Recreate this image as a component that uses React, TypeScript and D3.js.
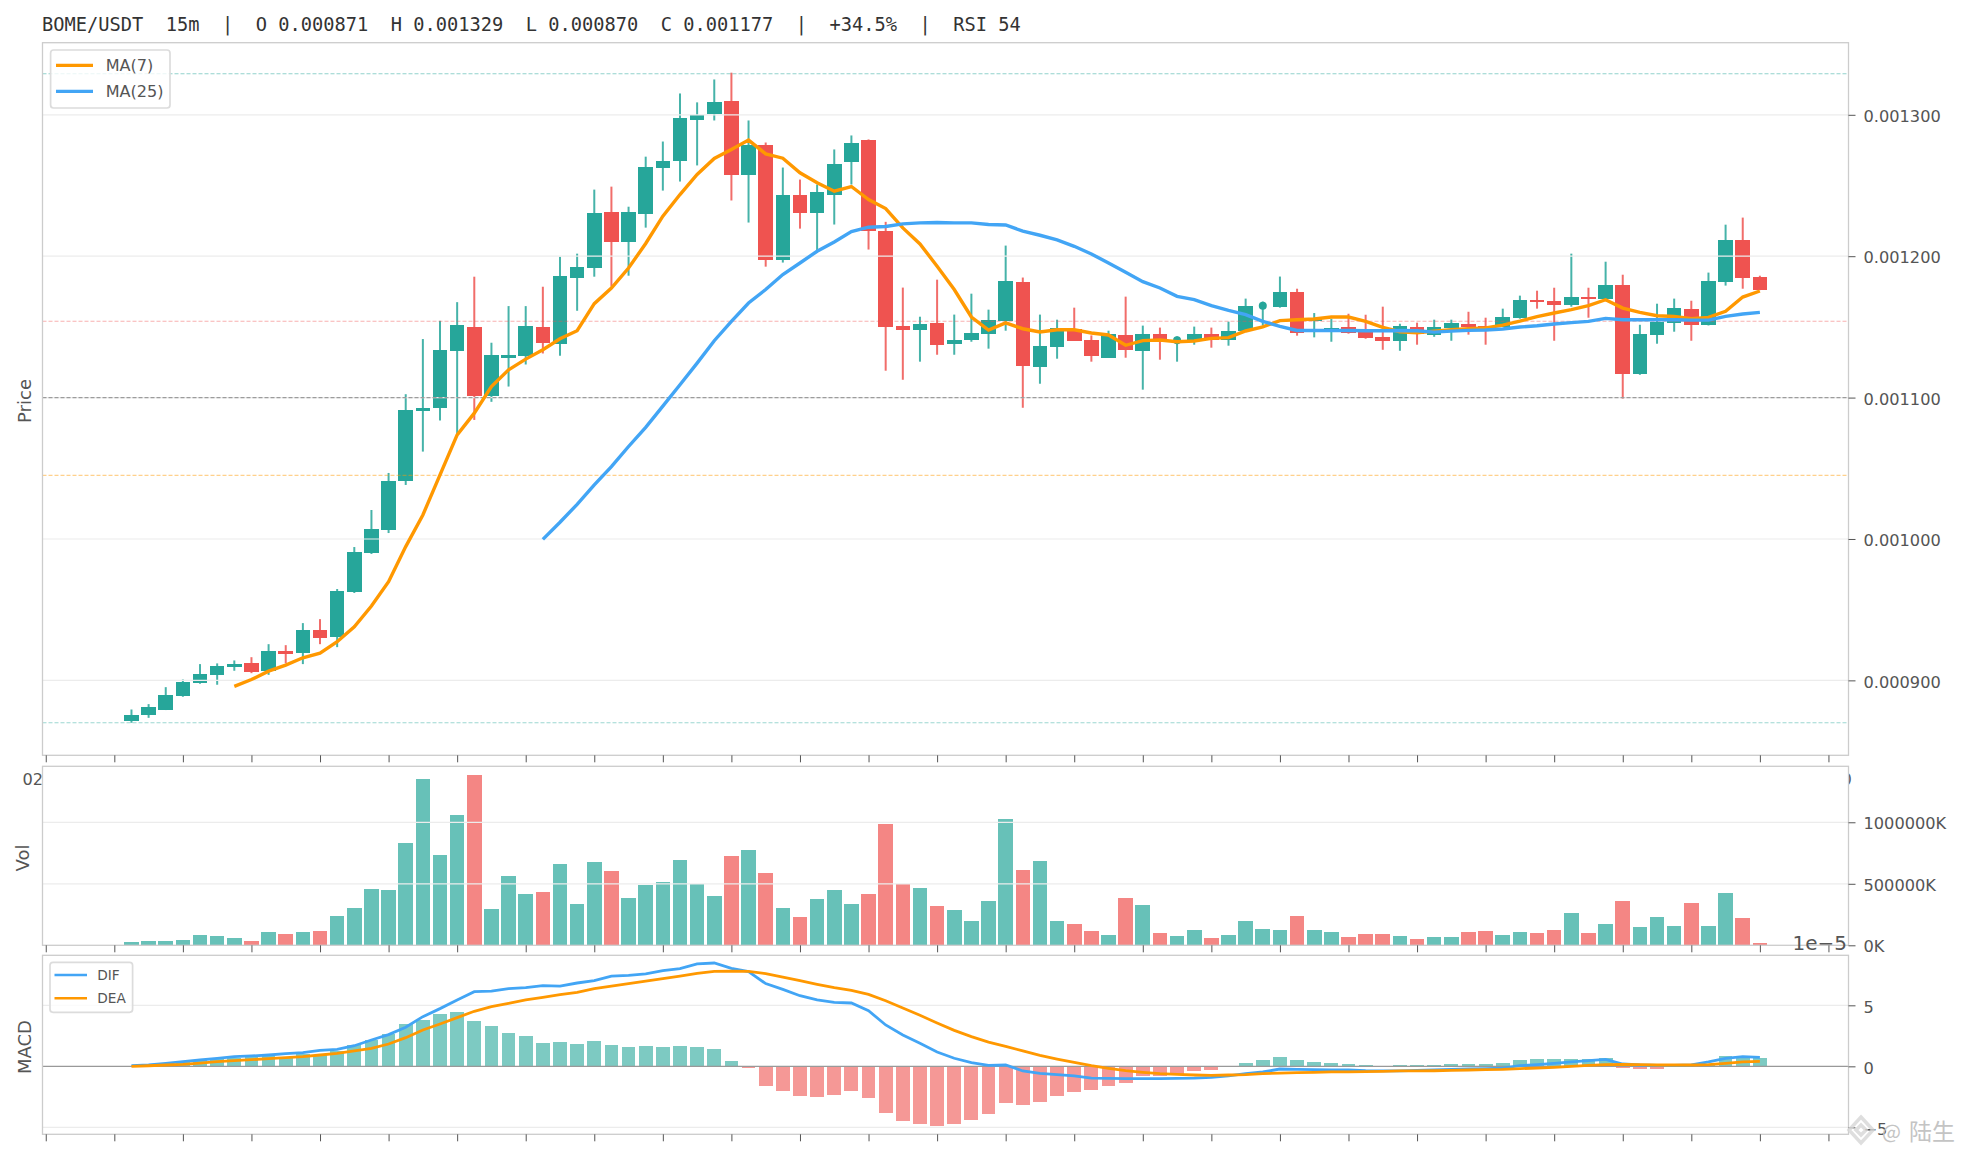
import * as d3 from "d3";
import { useEffect, useRef } from "react";

const WIDTH = 1962;
const HEIGHT = 1156;

const title =
  "BOME/USDT  15m  |  O 0.000871  H 0.001329  L 0.000870  C 0.001177  |  +34.5%  |  RSI 54";

// prices in millionths of USDT, one entry per 15m candle
const opens = [
  871, 875.6, 879.2, 889, 898.3, 903.9, 909.4, 912.2, 906.5, 920.7,
  919.3, 935.6, 930.4, 962.5, 990.1, 1006.4, 1041, 1090.6, 1092.7, 1133.3,
  1150, 1100.8, 1128.1, 1129.6, 1150, 1138, 1184.8, 1191.9, 1231.5, 1210.3,
  1230, 1262.7, 1267, 1296, 1300.3, 1309.5, 1257.1, 1279, 1197.6, 1243.6,
  1230.9, 1243.6, 1266.3, 1281.9, 1218.1, 1150.9, 1148, 1153, 1138.1, 1141,
  1145.2, 1154.4, 1182, 1121.8, 1136, 1148.8, 1141, 1128.2, 1144.5, 1133.2,
  1145.2, 1140.6, 1141, 1145.2, 1141, 1147.3, 1165, 1164.3, 1175, 1154,
  1146.1, 1150.1, 1146.1, 1143, 1140.2, 1150.1, 1144.5, 1149.4, 1152.2, 1150.8,
  1150.1, 1156.5, 1169.2, 1168.5, 1165.7, 1171.4, 1170, 1179.9, 1116.8, 1144.5,
  1153, 1162.9, 1151.5, 1182, 1211.7, 1185.5,
];
const highs = [
  879.4, 883.2, 895.2, 900.6, 911.5, 912, 914.1, 916.4, 925.6, 924.9,
  940.5, 943.3, 964.6, 994.3, 1020.5, 1046.7, 1102.4, 1141.4, 1154.3, 1167.5,
  1185.5, 1138.8, 1164.7, 1164.7, 1178.4, 1199.6, 1201.8, 1247.1, 1249.2, 1235,
  1270.4, 1281.1, 1315.1, 1308.8, 1325, 1329.8, 1296, 1280.4, 1262.7, 1254.2,
  1250.7, 1275.5, 1285.4, 1282.6, 1224.3, 1177.8, 1157.2, 1183.4, 1158.7, 1173.5,
  1162.2, 1207.5, 1184.9, 1158.7, 1155.1, 1163.6, 1144, 1147.3, 1171.4, 1150.9,
  1149.5, 1143.3, 1150.2, 1149.5, 1153.7, 1170, 1167.9, 1185.6, 1177, 1159.8,
  1155.8, 1159.3, 1158.6, 1164.3, 1152.2, 1153, 1155.1, 1155.1, 1160.7, 1156.5,
  1162.9, 1172.1, 1175.6, 1177.7, 1201.8, 1177.7, 1196.1, 1186.9, 1151.5, 1166.4,
  1170, 1168.5, 1188.4, 1222.3, 1227.3, 1186.2,
];
const lows = [
  870, 873.5, 879, 888.4, 897.6, 896.9, 906.8, 905.1, 903.9, 912,
  911.5, 925.6, 923.5, 961.8, 989.4, 1004.2, 1038.2, 1061.8, 1083.8, 1073.6,
  1084.2, 1097, 1107.8, 1123.4, 1131.2, 1129.6, 1161.4, 1185.5, 1178.6, 1186.2,
  1220.2, 1246.4, 1252.8, 1264.2, 1296, 1239.4, 1223.8, 1192.6, 1195.5, 1219.5,
  1203.3, 1222.4, 1250.7, 1204.7, 1119, 1112.6, 1125.4, 1130.3, 1130.3, 1139.5,
  1134.6, 1147.3, 1092.8, 1109.8, 1127.5, 1140, 1125.4, 1128, 1128.2, 1105.6,
  1126.8, 1125.4, 1137.4, 1135.3, 1136.7, 1147, 1150.9, 1163.6, 1143.8, 1142.6,
  1139.5, 1145.2, 1141.6, 1133.8, 1133.1, 1137.4, 1143, 1140.2, 1144.5, 1137.4,
  1150, 1155.8, 1162.9, 1140.2, 1164.3, 1156.5, 1169, 1099.2, 1116.1, 1138.1,
  1146.6, 1140.2, 1151, 1179.2, 1177, 1176,
];
const closes = [
  875.4, 881, 889.5, 898.7, 904.4, 910.1, 911.5, 905.8, 920.7, 918.6,
  935.6, 929.9, 963.2, 990.8, 1007.1, 1041, 1091.3, 1092.7, 1133.8, 1151.5,
  1100.8, 1130.3, 1130.3, 1150.8, 1138.8, 1186.2, 1192.6, 1230.8, 1210.3, 1231.5,
  1263.4, 1267, 1297.4, 1299.8, 1308.8, 1257.1, 1279, 1197.6, 1243.6, 1230.9,
  1245.7, 1264.9, 1280.4, 1218.1, 1150.2, 1148, 1152.3, 1137.4, 1141, 1145.9,
  1155.1, 1182.7, 1122.6, 1136.7, 1149.5, 1140.3, 1129.6, 1145.2, 1133.9, 1145.2,
  1141, 1140.6, 1145.2, 1141, 1147.3, 1165, 1165, 1175, 1145.7, 1155.5,
  1149.4, 1145.9, 1142.3, 1140.2, 1150.8, 1145.2, 1150.1, 1153, 1150.1, 1150.1,
  1157.2, 1169.2, 1167.8, 1165.7, 1171.4, 1170, 1179.9, 1116.8, 1145.2, 1153.7,
  1163.6, 1151.5, 1182.7, 1211.7, 1184.8, 1176.3,
];

// moving averages start at the candle given by these offsets
const ma7Start = 6;
const ma7 = [
  895.7, 900.6, 906.5, 910.8, 916, 919.3, 927.3, 937.9, 952.6, 969.8,
  994.6, 1017, 1045.3, 1073.6, 1089, 1107.8, 1119.6, 1127.2, 1133.8, 1141.6,
  1147.3, 1166.4, 1177.5, 1191.6, 1209, 1228.3, 1243.6, 1257.8, 1269.1, 1275.5,
  1282.1, 1272.4, 1269.3, 1259, 1251.9, 1246, 1249.3, 1240.1, 1233.7, 1220,
  1208.7, 1192.9, 1176.4, 1157, 1147.8, 1152.8, 1148.7, 1146.4, 1148, 1148,
  1145.7, 1144.3, 1137, 1140.3, 1140.7, 1139.5, 1140, 1141.9, 1142.4, 1147.1,
  1150, 1154.4, 1155.1, 1155.6, 1157, 1157, 1153.9, 1149.7, 1146.6, 1145.9,
  1147, 1148, 1148.7, 1149.2, 1151.3, 1154.1, 1157.2, 1159.8, 1162.2, 1165,
  1169.2, 1163.3, 1160.3, 1157.9, 1157.4, 1155.8, 1156.7, 1161, 1171.1, 1175.4,
];
const ma25Start = 24;
const ma25 = [
  999.7, 1011.8, 1024.5, 1038.2, 1051.2, 1065.4, 1079, 1094, 1109.1, 1124.4,
  1140.2, 1153.9, 1166.9, 1176.4, 1187, 1195.2, 1203.5, 1210.1, 1217.4, 1220.5,
  1221, 1222.9, 1223.6, 1223.8, 1223.6, 1223.6, 1222.4, 1222.1, 1217.7, 1214.8,
  1211.5, 1207, 1201.6, 1195.2, 1188.6, 1182, 1177.5, 1171.6, 1169.3, 1165,
  1161.7, 1158.7, 1153.9, 1150.4, 1147.5, 1147.5, 1147.5, 1147.5, 1147.3, 1147.3,
  1147.5, 1147.3, 1146.3, 1147, 1147.5, 1147.8, 1148.5, 1149.9, 1150.8, 1152,
  1153, 1153.9, 1156, 1155.1, 1155.1, 1155.1, 1155.1, 1154.8, 1154.8, 1157.4,
  1159.1, 1160.3,
];

// thousands of K
const volumes = [
  27, 35, 35, 43, 84, 76, 60, 35, 108, 92,
  108, 117, 238, 304, 458, 450, 832, 1352, 734, 1060,
  1385, 295, 564, 417, 434, 661, 336, 678, 604, 385,
  491, 515, 694, 499, 401, 726, 775, 588, 304, 230,
  377, 450, 336, 417, 986, 501, 466, 320, 287, 198,
  360, 1027, 612, 686, 198, 173, 117, 84, 385, 328,
  100, 76, 125, 60, 84, 198, 133, 125, 238, 125,
  108, 68, 92, 92, 76, 51, 68, 68, 108, 117,
  84, 108, 100, 125, 263, 100, 173, 360, 149, 230,
  157, 344, 157, 425, 222, 19,
];

// MACD values in units of 1e-5
const macdHist = [
  0.05, 0.11, 0.19, 0.38, 0.52, 0.71, 0.71, 0.77, 0.85, 0.79,
  1.01, 0.93, 1.26, 1.75, 2.16, 2.65, 3.47, 3.8, 4.29, 4.45,
  3.72, 3.31, 2.73, 2.49, 1.91, 1.99, 1.83, 2.08, 1.75, 1.58,
  1.67, 1.58, 1.67, 1.58, 1.42, 0.44, -0.14, -1.61, -2.02, -2.43,
  -2.51, -2.35, -2.02, -2.6, -3.83, -4.48, -4.73, -4.89, -4.73, -4.4,
  -3.91, -3.01, -3.17, -2.92, -2.43, -2.1, -1.94, -1.61, -1.37, -0.79,
  -0.79, -0.71, -0.38, -0.3, 0.02, 0.27, 0.52, 0.77, 0.52, 0.36,
  0.27, 0.19, 0.11, 0.03, 0.11, 0.11, 0.11, 0.19, 0.19, 0.19,
  0.27, 0.52, 0.6, 0.6, 0.6, 0.6, 0.68, -0.11, -0.22, -0.22,
  -0.03, -0.05, 0.11, 0.85, 0.85, 0.68,
];
const dif = [
  0.05, 0.11, 0.25, 0.38, 0.52, 0.66, 0.79, 0.85, 0.93, 1.04,
  1.12, 1.31, 1.39, 1.69, 2.16, 2.6, 3.2, 4.07, 4.73, 5.44,
  6.12, 6.17, 6.37, 6.45, 6.61, 6.58, 6.83, 7.02, 7.4, 7.46,
  7.57, 7.84, 8.0, 8.39, 8.47, 8.03, 7.76, 6.78, 6.31, 5.79,
  5.44, 5.25, 5.19, 4.56, 3.39, 2.57, 1.89, 1.17, 0.66, 0.3,
  0.08, 0.11, -0.38, -0.57, -0.68, -0.79, -0.96, -0.98, -1.01, -1.01,
  -1.01, -0.98, -0.96, -0.9, -0.79, -0.6, -0.46, -0.22, -0.25, -0.27,
  -0.3, -0.3, -0.36, -0.38, -0.38, -0.33, -0.3, -0.25, -0.22, -0.19,
  -0.14, 0.05, 0.14, 0.25, 0.36, 0.46, 0.57, 0.19, 0.11, 0.08,
  0.08, 0.11, 0.36, 0.66, 0.79, 0.74,
];
const dea = [
  0, 0.05, 0.11, 0.16, 0.27, 0.38, 0.46, 0.55, 0.63, 0.71,
  0.79, 0.93, 1.07, 1.26, 1.48, 1.83, 2.35, 2.98, 3.47, 3.99,
  4.51, 4.89, 5.16, 5.44, 5.66, 5.87, 6.07, 6.37, 6.58, 6.78,
  6.99, 7.19, 7.4, 7.62, 7.79, 7.81, 7.79, 7.6, 7.32, 7.02,
  6.72, 6.45, 6.23, 5.9, 5.38, 4.78, 4.18, 3.55, 2.95, 2.43,
  1.99, 1.64, 1.26, 0.9, 0.6, 0.33, 0.05, -0.16, -0.36, -0.49,
  -0.6, -0.66, -0.71, -0.74, -0.71, -0.68, -0.6, -0.55, -0.52, -0.49,
  -0.46, -0.46, -0.44, -0.41, -0.38, -0.38, -0.36, -0.33, -0.3, -0.27,
  -0.25, -0.19, -0.14, -0.08, 0, 0.08, 0.14, 0.16, 0.14, 0.11,
  0.11, 0.11, 0.14, 0.25, 0.36, 0.41,
];

const priceTicks = [900, 1000, 1100, 1200, 1300];
const volTicks = [0, 500, 1000];
const macdTicks = [-5, 0, 5];
const levelPrices = [1329, 1154, 1100, 1045, 870];
const levelColors = ["#26a69a", "#ef5350", "#888888", "#ff9800", "#26a69a"];
const levelOpacity = [0.5, 0.45, 0.8, 0.45, 0.45];
const timeLabels = ["02:00", "04:00"];

const UP = "#26a69a";
const DOWN = "#ef5350";
const ORANGE = "#ff9800";
const BLUE = "#42a5f5";
const GRID = "#ececec";
const SPINE = "#cccccc";
const TEXT = "#555555";
const SANS = "'DejaVu Sans', sans-serif";

const LEFT = 42.5;
const RIGHT = 1848.5;

export default function App() {
  const ref = useRef<SVGSVGElement | null>(null);

  useEffect(() => {
    const svg = d3.select(ref.current);
    svg.selectAll("*").remove();

    const indices = d3.range(opens.length);
    const x = d3.scaleLinear().domain([-5.19, 100.17]).range([LEFT, RIGHT]);
    const tickIdx = d3.range(-5, 100, 4);
    const bodyW = 14.6;
    const histW = 13.8;

    const yPrice = d3.scaleLinear().domain([847, 1351]).range([755.3, 42.7]);
    const yVol = d3.scaleLinear().domain([0, 1455]).range([945.3, 766.3]);
    const yMacd = d3.scaleLinear().domain([-5.57, 9.1]).range([1134.3, 955.3]);

    // ===== Title =====
    svg
      .append("text")
      .attr("x", 42)
      .attr("y", 31)
      .attr("fill", "#333333")
      .style("font-family", "'DejaVu Sans Mono', monospace")
      .style("font-size", "18.7px")
      .style("white-space", "pre")
      .text(title);

    const panel = (top: number, bottom: number) => {
      const g = svg.append("g");
      g.append("rect")
        .attr("x", LEFT)
        .attr("y", top)
        .attr("width", RIGHT - LEFT)
        .attr("height", bottom - top)
        .attr("fill", "#ffffff");
      return g;
    };

    const grid = (g: any, ticks: number[], y: any) => {
      g.selectAll(null)
        .data(ticks)
        .enter()
        .append("line")
        .attr("x1", LEFT)
        .attr("x2", RIGHT)
        .attr("y1", (d: number) => y(d))
        .attr("y2", (d: number) => y(d))
        .attr("stroke", GRID)
        .attr("stroke-width", 1.2);
    };

    const finish = (
      g: any,
      top: number,
      bottom: number,
      ticks: number[],
      y: any,
      fmt: (d: number) => string,
    ) => {
      g.append("rect")
        .attr("x", LEFT)
        .attr("y", top)
        .attr("width", RIGHT - LEFT)
        .attr("height", bottom - top)
        .attr("fill", "none")
        .attr("stroke", SPINE)
        .attr("stroke-width", 1.3);

      const bottomAxis = g
        .append("g")
        .attr("transform", `translate(0,${bottom})`)
        .call(
          d3
            .axisBottom(x)
            .tickValues(tickIdx)
            .tickSize(7)
            .tickFormat(() => ""),
        );
      bottomAxis.select(".domain").remove();
      bottomAxis.selectAll("line").attr("stroke", TEXT);

      const rightAxis = g
        .append("g")
        .attr("transform", `translate(${RIGHT},0)`)
        .call(
          d3
            .axisRight(y)
            .tickValues(ticks)
            .tickSize(7)
            .tickPadding(8)
            .tickFormat((d: any) => fmt(d)),
        );
      rightAxis.select(".domain").remove();
      rightAxis.selectAll("line").attr("stroke", TEXT);
      rightAxis
        .selectAll("text")
        .attr("fill", TEXT)
        .attr("y", 1.5)
        .style("font-family", SANS)
        .style("font-size", "16.2px");
    };

    const yTitle = (label: string, cx: number, cy: number) => {
      svg
        .append("text")
        .attr("transform", `translate(${cx},${cy}) rotate(-90)`)
        .attr("text-anchor", "middle")
        .attr("fill", TEXT)
        .style("font-family", SANS)
        .style("font-size", "18px")
        .text(label);
    };

    const legend = (
      g: any,
      bx: number,
      by: number,
      bw: number,
      bh: number,
      lineX: number[],
      lineY: number[],
      textX: number,
      fontSize: number,
      lineW: number,
      labels: string[],
      colors: string[],
    ) => {
      g.append("rect")
        .attr("x", bx)
        .attr("y", by)
        .attr("width", bw)
        .attr("height", bh)
        .attr("rx", 3)
        .attr("fill", "#ffffff")
        .attr("fill-opacity", 0.8)
        .attr("stroke", "#dcdcdc")
        .attr("stroke-width", 1.7);
      labels.forEach((label, i) => {
        g.append("line")
          .attr("x1", lineX[0])
          .attr("x2", lineX[1])
          .attr("y1", lineY[i])
          .attr("y2", lineY[i])
          .attr("stroke", colors[i])
          .attr("stroke-width", lineW);
        g.append("text")
          .attr("x", textX)
          .attr("y", lineY[i] + fontSize * 0.36)
          .attr("fill", TEXT)
          .style("font-family", SANS)
          .style("font-size", `${fontSize}px`)
          .text(label);
      });
    };

    // ===== Price panel =====
    const main = panel(42.7, 755.3);

    main
      .selectAll(null)
      .data(indices)
      .enter()
      .append("line")
      .attr("x1", (i) => x(i))
      .attr("x2", (i) => x(i))
      .attr("y1", (i) => yPrice(highs[i]))
      .attr("y2", (i) => yPrice(lows[i]))
      .attr("stroke", (i) => (closes[i] >= opens[i] ? UP : DOWN))
      .attr("stroke-opacity", 0.85)
      .attr("stroke-width", 2);

    main
      .selectAll(null)
      .data(indices.filter((i) => opens[i] !== closes[i]))
      .enter()
      .append("rect")
      .attr("x", (i) => x(i) - bodyW / 2)
      .attr("y", (i) => yPrice(Math.max(opens[i], closes[i])))
      .attr("width", bodyW)
      .attr("height", (i) =>
        Math.abs(yPrice(opens[i]) - yPrice(closes[i])),
      )
      .attr("fill", (i) => (closes[i] >= opens[i] ? UP : DOWN))
      .attr("shape-rendering", "crispEdges");

    // candles that open and close level show as a dot
    main
      .selectAll(null)
      .data(indices.filter((i) => opens[i] === closes[i]))
      .enter()
      .append("circle")
      .attr("cx", (i) => x(i))
      .attr("cy", (i) => yPrice(closes[i]))
      .attr("r", 4)
      .attr("fill", UP);

    grid(main, priceTicks, yPrice);

    main
      .selectAll(null)
      .data(levelPrices)
      .enter()
      .append("line")
      .attr("x1", LEFT)
      .attr("x2", RIGHT)
      .attr("y1", (d) => yPrice(d))
      .attr("y2", (d) => yPrice(d))
      .attr("stroke", (_, i) => levelColors[i])
      .attr("stroke-opacity", (_, i) => levelOpacity[i])
      .attr("stroke-width", 1.1)
      .attr("stroke-dasharray", "4 2");

    const priceLine = (values: number[], start: number, color: string) => {
      const path = d3
        .line<number>()
        .x((_, i) => x(i + start))
        .y((d) => yPrice(d));
      main
        .append("path")
        .attr("d", path(values))
        .attr("fill", "none")
        .attr("stroke", color)
        .attr("stroke-width", 3.4);
    };
    priceLine(ma7, ma7Start, ORANGE);
    priceLine(ma25, ma25Start, BLUE);

    legend(
      main,
      50.6,
      50,
      119.4,
      58,
      [56, 93],
      [65.3, 91.3],
      105.7,
      16.1,
      3.2,
      ["MA(7)", "MA(25)"],
      [ORANGE, BLUE],
    );
    finish(main, 42.7, 755.3, priceTicks, yPrice, (d) =>
      (d / 1e6).toFixed(6),
    );
    yTitle("Price", 31, 401);

    // time labels of the price axis, mostly covered by the panel below
    svg
      .selectAll(null)
      .data([-5, 99])
      .enter()
      .append("text")
      .attr("x", (d) => x(d))
      .attr("y", 785)
      .attr("text-anchor", "middle")
      .attr("fill", TEXT)
      .style("font-family", SANS)
      .style("font-size", "16.2px")
      .text((_, i) => timeLabels[i]);

    // ===== Volume panel =====
    const vol = panel(766.3, 945.3);
    vol
      .selectAll(null)
      .data(indices)
      .enter()
      .append("rect")
      .attr("x", (i) => x(i) - bodyW / 2)
      .attr("y", (i) => yVol(volumes[i]))
      .attr("width", bodyW)
      .attr("height", (i) => yVol(0) - yVol(volumes[i]))
      .attr("fill", (i) => (closes[i] >= opens[i] ? UP : DOWN))
      .attr("fill-opacity", 0.7)
      .attr("shape-rendering", "crispEdges");
    grid(vol, volTicks.slice(1), yVol);
    finish(vol, 766.3, 945.3, volTicks, yVol, (d) => `${d * 1000}K`);
    yTitle("Vol", 29, 858);

    // ===== MACD panel =====
    const macd = panel(955.3, 1134.3);
    macd
      .selectAll(null)
      .data(indices)
      .enter()
      .append("rect")
      .attr("x", (i) => x(i) - histW / 2)
      .attr("y", (i) => yMacd(Math.max(0, macdHist[i])))
      .attr("width", histW)
      .attr("height", (i) => Math.abs(yMacd(macdHist[i]) - yMacd(0)))
      .attr("fill", (i) => (macdHist[i] >= 0 ? UP : DOWN))
      .attr("fill-opacity", 0.6)
      .attr("shape-rendering", "crispEdges");
    grid(macd, [-5, 5], yMacd);
    macd
      .append("line")
      .attr("x1", LEFT)
      .attr("x2", RIGHT)
      .attr("y1", yMacd(0))
      .attr("y2", yMacd(0))
      .attr("stroke", "#999999")
      .attr("stroke-width", 1.2);

    const macdLine = d3
      .line<number>()
      .x((_, i) => x(i))
      .y((d) => yMacd(d));
    macd
      .append("path")
      .attr("d", macdLine(dif))
      .attr("fill", "none")
      .attr("stroke", BLUE)
      .attr("stroke-width", 2.8);
    macd
      .append("path")
      .attr("d", macdLine(dea))
      .attr("fill", "none")
      .attr("stroke", ORANGE)
      .attr("stroke-width", 2.8);

    legend(
      macd,
      50,
      962.3,
      82.6,
      50,
      [54.5, 87],
      [975, 998.3],
      97.3,
      13.7,
      2.6,
      ["DIF", "DEA"],
      [BLUE, ORANGE],
    );
    finish(macd, 955.3, 1134.3, macdTicks, yMacd, (d) =>
      d < 0 ? `\u2212${-d}` : `${d}`,
    );
    yTitle("MACD", 31, 1047);

    // offset text of the MACD axis
    svg
      .append("text")
      .attr("x", 1847)
      .attr("y", 949.5)
      .attr("text-anchor", "end")
      .attr("fill", TEXT)
      .style("font-family", SANS)
      .style("font-size", "20px")
      .text("1e\u22125");

    // ===== Watermark =====
    const mark = svg.append("g");
    [
      "M1861,1117 L1873,1130 L1861,1143 L1849,1130 Z",
      "M1861,1125 L1866,1130 L1861,1135 L1856,1130 Z",
    ].forEach((d) => {
      mark
        .append("path")
        .attr("d", d)
        .attr("fill", "none")
        .attr("stroke", "#d6d6d6")
        .attr("stroke-width", 3.5)
        .attr("stroke-opacity", 0.8);
    });
    mark
      .append("text")
      .attr("x", 1882)
      .attr("y", 1139)
      .attr("fill", "#c4c4c4")
      .style("font-family", "'Noto Sans CJK SC', sans-serif")
      .style("font-size", "20px")
      .text("@");
    mark
      .append("text")
      .attr("x", 1909)
      .attr("y", 1140)
      .attr("fill", "#c4c4c4")
      .style("font-family", "'Noto Sans CJK SC', sans-serif")
      .style("font-size", "23px")
      .text("陆生");
  }, []);

  return (
    <svg
      ref={ref}
      width={WIDTH}
      height={HEIGHT}
      style={{ position: "absolute", left: 0, top: 0, background: "#ffffff" }}
    />
  );
}
